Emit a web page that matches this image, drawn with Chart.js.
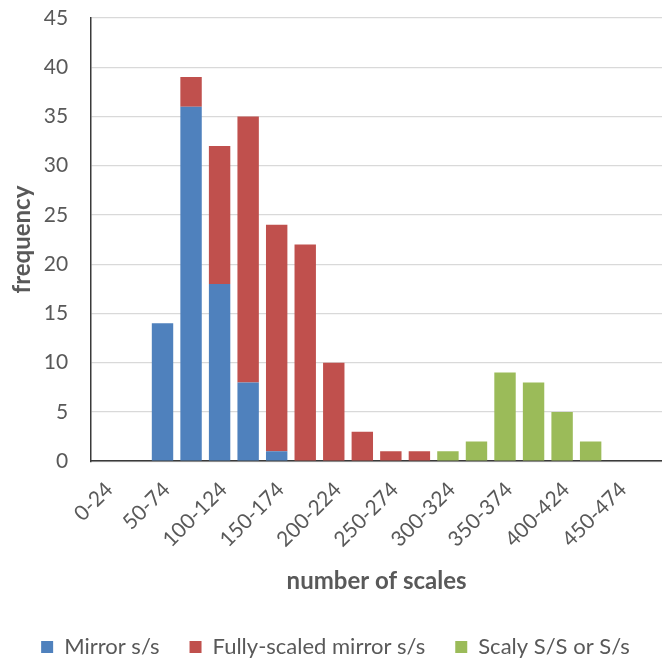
<!DOCTYPE html>
<html lang="en">
  <head>
    <meta charset="utf-8" />
    <title>Number of scales</title>
    <script src="https://cdn.jsdelivr.net/npm/chart.js@4.4.0/dist/chart.umd.min.js"></script>
    <style>
      html, body { margin: 0; padding: 0; background: #fff; }
      #wrap { width: 662px; height: 668px; position: relative; }
    </style>
  </head>
  <body>
    <div id="wrap"><canvas id="myChart"></canvas></div>
    <script>
      // scale-count bins
      const categories = [
        "0-24", "25-49", "50-74", "75-99", "100-124", "125-149", "150-174",
        "175-199", "200-224", "225-249", "250-274", "275-299", "300-324",
        "325-349", "350-374", "375-399", "400-424", "425-449", "450-474", "475-499",
      ];
      const mirror = [0, 0, 14, 36, 18, 8, 1, 0, 0, 0, 0, 0, 0, 0, 0, 0, 0, 0, 0, 0];
      const fullyScaled = [0, 0, 0, 3, 14, 27, 23, 22, 10, 3, 1, 1, 0, 0, 0, 0, 0, 0, 0, 0];
      const scaly = [0, 0, 0, 0, 0, 0, 0, 0, 0, 0, 0, 0, 1, 2, 9, 8, 5, 2, 0, 0];
      const yTicks = [0, 5, 10, 15, 20, 25, 30, 35, 40, 45];

      const grey = "#595959";
      const font = "Lato";

      const ctx = document.getElementById("myChart").getContext("2d");
      const myChart = new Chart(ctx, {
        type: "bar",
        data: {
          labels: categories,
          datasets: [
            { label: "Mirror s/s", data: mirror, backgroundColor: "#4F81BD" },
            { label: "Fully-scaled mirror s/s", data: fullyScaled, backgroundColor: "#C0504D" },
            { label: "Scaly S/S or S/s", data: scaly, backgroundColor: "#9BBB59" },
          ],
        },
        options: {
          responsive: true,
          maintainAspectRatio: false,
          animation: false,
          layout: { padding: { top: 18, left: 4, right: -5, bottom: 0 } },
          datasets: {
            bar: { categoryPercentage: 1, barPercentage: 0.75, borderWidth: 0 },
          },
          plugins: {
            tooltip: { enabled: false },
            legend: {
              position: "bottom",
              labels: {
                color: grey,
                font: { family: font, size: 22 },
                boxWidth: 12,
                boxHeight: 12,
                padding: 30,
              },
            },
          },
          scales: {
            x: {
              stacked: true,
              afterFit: (scale) => {
                scale.paddingRight = 0;
              },
              grid: { display: false, drawTicks: true, tickLength: 16, tickColor: "transparent" },
              border: { display: true, color: "#3a3a3a", width: 1.5 },
              ticks: {
                autoSkip: false,
                minRotation: 45,
                maxRotation: 45,
                padding: 0,
                labelOffset: 4,
                color: grey,
                font: { family: font, size: 21 },
                callback: function (value, index) {
                  return index % 2 === 0 ? this.getLabelForValue(value) : "";
                },
              },
              title: {
                display: true,
                text: "number of scales",
                color: grey,
                font: { family: font, size: 24, weight: "bold" },
                padding: { top: 15, bottom: 10 },
              },
            },
            y: {
              stacked: true,
              min: 0,
              max: 45,
              afterBuildTicks: (axis) => {
                axis.ticks = yTicks.map((v) => ({ value: v }));
              },
              grid: { color: "#D9D9D9", lineWidth: 1.3, drawTicks: true, tickLength: 23, tickColor: "transparent" },
              border: { display: true, color: "#3a3a3a", width: 1.5 },
              ticks: {
                padding: 0,
                color: grey,
                font: { family: font, size: 21 },
              },
              title: {
                display: true,
                text: "frequency",
                color: grey,
                font: { family: font, size: 24, weight: "bold" },
                padding: { top: 4, bottom: 7 },
              },
            },
          },
        },
      });
    </script>
  </body>
</html>
